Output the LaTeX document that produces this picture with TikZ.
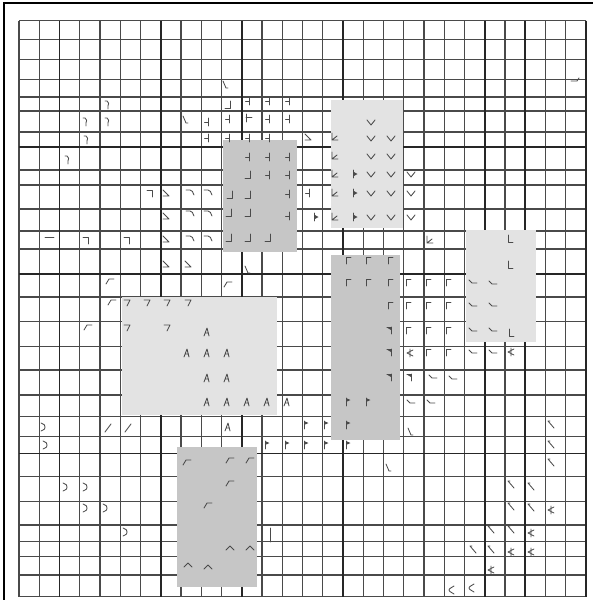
\documentclass[tikz,border=0pt]{standalone}
\definecolor{gridc}{HTML}{4A4A4A}
\definecolor{gridh}{HTML}{262626}
\definecolor{midg}{HTML}{C6C6C6}
\definecolor{lightg}{HTML}{E3E3E3}
\definecolor{glc}{HTML}{4A4A4A}
\tikzset{
 gridln/.style={draw=gridc, line width=1.25},
 gridhv/.style={draw=gridh, line width=1.6},
 glyph/.style={draw=glc, line width=0.85, line cap=round, line join=round},
 ta/.pic={\draw[glyph] (1.5,-4)--(1.5,4) (-2.5,0)--(1.5,0);},
 Jf/.pic={\draw[glyph] (2,-4)--(2,3)--(-3,3);},
 sq/.pic={\draw[glyph] (-2,-4)--(-2,4) (-2,-1)--(4,-1);},
 sev/.pic={\draw[glyph] (-3,-3)--(2,-3)--(2,4);},
 sevs/.pic={\draw[glyph] (-3,-3)--(3,-3)--(0,3);},
 cap/.pic={\draw[glyph] (-4,-2)--(0,-2) .. controls (2,-2) and (3,0) .. (4,3);},
 tri/.pic={\draw[glyph] (-3,-3)--(3,3)--(-3,3);},
 hook/.pic={\draw[glyph] (-2,-4) .. controls (0,-1) .. (1,3) -- (3,3);},
 paren/.pic={\draw[glyph] (-2,-4)--(0,-4) .. controls (2,-3) and (2,-1) .. (1,1) -- (1,4);},
 gt/.pic={\draw[glyph] (-2,-4) .. controls (2,-2) .. (2,0) .. controls (2,2) .. (-2,4);},
 Lv/.pic={\draw[glyph] (-3,-4)--(-3,3)--(3,3) (-3,3)--(2,-1);},
 vv/.pic={\draw[glyph] (-4,-2)--(0,3)--(4,-2);},
 pr/.pic={\draw[glyph] (-2,-4)--(-2,4); \fill[glc] (-2,-2.5)--(2.5,0)--(-2,2.5)--cycle;},
 LL/.pic={\draw[glyph] (-2,-4)--(-2,3)--(3,3);},
 Gam/.pic={\draw[glyph] (-2,4)--(-2,-3)--(3,-3);},
 sm/.pic={\draw[glyph] (-4,-2)--(-1,1)--(4,1);},
 td/.pic={\draw[glyph] (1,-3)--(1,4); \fill[glc] (-4,-3)--(1,-3)--(1,0)--cycle;},
 kk/.pic={\draw[glyph] (0,-4)--(0,4) (3,-3)--(-3,0)--(3,3);},
 bsl/.pic={\draw[glyph] (-1,-4)--(-3,-4)--(3,3);},
 ru/.pic={\draw[glyph] (-4,3)--(-1,-2)--(4,-2);},
 caret/.pic={\draw[glyph] (-4,2)--(0,-2)--(4,2);},
 AA/.pic={\draw[glyph] (-3,4)--(0,-4)--(2,4) (-2,1)--(1.5,1);},
 flag/.pic={\draw[glyph] (-2,-4)--(-2,4); \fill[glc] (-2,-4)--(2.5,-2)--(-2,0)--cycle;},
 slash/.pic={\draw[glyph] (-3,4)--(3,-4);},
 bar/.pic={\draw[glyph] (0,-7)--(0,7);},
 dash/.pic={\draw[glyph] (-5,0)--(4,0);},
 lt/.pic={\draw[glyph] (3,-4) .. controls (-2,-1) .. (-2,0) .. controls (-2,1) .. (3,4);},
 dhook/.pic={\draw[glyph] (-4,1)--(2,1)--(4,-2);}
}
\newcommand\glyf[3]{\pic at (#2,#3) {#1};}
\begin{document}
\begin{tikzpicture}[x=1pt,y=-1pt]
\useasboundingbox (0,0) rectangle (593,600);
\fill[white] (0,0) rectangle (593,600);
% grid
\foreach \k in {0,...,28} \draw[gridln] ({19+20.25*\k},20.7) -- ({19+20.25*\k},596.7);
\foreach \yy in {20.7,39.3,59.3,79.3,97,111,132,146.7,170,185,209,231,249,274,297,321.7,346.7,370,395,416.7,436.7,453.3,476.7,501.7,525,541.7,556.7,575,596.7}
  \draw[gridln] (19,\yy) -- (586,\yy);
\foreach \k in {2,7,11,16,23,25} \draw[gridhv] ({19+20.25*\k},20.7) -- ({19+20.25*\k},596.7);
\draw[gridh, line width=2.2] (586,20.7) -- (586,596.7);
\foreach \yy in {146.7,274,453.3} \draw[gridhv] (19,\yy) -- (586,\yy);
% frame
\draw[black, line width=1.7] (4.2,600) -- (4.2,3.3) -- (593,3.3);
% shaded blocks
\fill[midg] (223,140) rectangle (297,252);
\fill[lightg] (331,100) rectangle (403,228);
\fill[lightg] (466,230) rectangle (536,342);
\fill[midg] (331,255) rectangle (400,440);
\fill[lightg] (122,297) rectangle (277,415);
\fill[midg] (177,447) rectangle (257,587);
% glyphs top-left
\glyf{hook}{225}{85}
\glyf{Jf}{228}{105}
\glyf{ta}{248}{101}\glyf{ta}{268}{101}\glyf{ta}{288}{101}
\glyf{hook}{185}{120}
\glyf{ta}{207}{122}\glyf{ta}{228}{119}\glyf{sq}{248}{118}\glyf{ta}{268}{119}\glyf{ta}{288}{119}
\glyf{ta}{207}{138}\glyf{ta}{228}{138}\glyf{ta}{248}{138}\glyf{ta}{268}{138}
\glyf{paren}{107}{105}\glyf{paren}{85}{122}\glyf{paren}{107}{122}\glyf{paren}{86}{140}\glyf{paren}{67}{160}
\glyf{ta}{248}{157}\glyf{ta}{268}{157}\glyf{ta}{288}{157}
\glyf{Jf}{248}{175}\glyf{ta}{268}{175}\glyf{ta}{288}{175}
\glyf{sev}{150}{193}\glyf{tri}{166}{193}\glyf{cap}{190}{192}\glyf{cap}{208}{192}\glyf{Jf}{230}{195}\glyf{Jf}{248}{195}\glyf{ta}{288}{194}
\glyf{tri}{166}{216}\glyf{cap}{190}{213}\glyf{cap}{208}{213}\glyf{Jf}{229}{213}\glyf{Jf}{248}{213}\glyf{ta}{288}{216}
\glyf{dash}{50}{237}\glyf{sev}{86}{240}\glyf{sev}{127}{240}\glyf{tri}{166}{239}\glyf{cap}{190}{238}\glyf{cap}{208}{238}\glyf{Jf}{229}{238}\glyf{Jf}{248}{238}\glyf{Jf}{268}{238}
\glyf{tri}{166}{264}\glyf{tri}{188}{264}\glyf{hook}{247}{270}
\glyf{ru}{110}{281}\glyf{ru}{228}{284}
% top-right area
\glyf{tri}{308}{137}\glyf{Lv}{335}{137}\glyf{vv}{371}{138}\glyf{vv}{391}{138}
\glyf{vv}{371}{122}
\glyf{Lv}{335}{156}\glyf{vv}{371}{156}\glyf{vv}{391}{156}
\glyf{Lv}{335}{174}\glyf{pr}{355}{174}\glyf{vv}{371}{174}\glyf{vv}{391}{174}\glyf{vv}{411}{174}
\glyf{ta}{308}{193}\glyf{Lv}{335}{193}\glyf{pr}{355}{193}\glyf{vv}{371}{193}\glyf{vv}{391}{193}\glyf{vv}{411}{193}
\glyf{pr}{316}{217}\glyf{Lv}{335}{217}\glyf{pr}{355}{217}\glyf{vv}{371}{217}\glyf{vv}{391}{217}\glyf{vv}{411}{217}
\glyf{Lv}{430}{240}
\glyf{LL}{510}{239}\glyf{LL}{510}{265}
\glyf{dhook}{575}{80}
% middle right
\glyf{Gam}{348}{260}\glyf{Gam}{368}{260}\glyf{Gam}{390}{260}
\glyf{Gam}{348}{282}\glyf{Gam}{368}{282}\glyf{Gam}{390}{282}\glyf{Gam}{408}{282}\glyf{Gam}{428}{282}\glyf{Gam}{448}{282}\glyf{sm}{473}{282}\glyf{sm}{493}{283}
\glyf{Gam}{390}{305}\glyf{Gam}{408}{305}\glyf{Gam}{428}{305}\glyf{Gam}{448}{305}\glyf{sm}{473}{305}\glyf{sm}{493}{305}
\glyf{td}{390}{330}\glyf{Gam}{408}{330}\glyf{Gam}{428}{330}\glyf{Gam}{448}{330}\glyf{sm}{473}{330}\glyf{sm}{493}{330}\glyf{LL}{511}{333}
\glyf{td}{390}{352}\glyf{kk}{410}{353}\glyf{Gam}{428}{352}\glyf{Gam}{448}{352}\glyf{sm}{473}{352}\glyf{sm}{493}{352}\glyf{kk}{511}{352}
\glyf{td}{390}{377}\glyf{td}{410}{377}\glyf{sm}{433}{377}\glyf{sm}{453}{378}
\glyf{flag}{348}{402}\glyf{flag}{368}{402}\glyf{sm}{411}{402}\glyf{sm}{431}{402}
\glyf{flag}{306}{425}\glyf{flag}{326}{425}\glyf{flag}{348}{425}\glyf{hook}{410}{432}\glyf{bsl}{551}{425}
\glyf{flag}{267}{445}\glyf{flag}{287}{445}\glyf{flag}{306}{445}\glyf{flag}{326}{445}\glyf{flag}{348}{445}\glyf{bsl}{551}{445}
\glyf{hook}{388}{468}\glyf{bsl}{551}{463}
\glyf{bsl}{511}{485}\glyf{bsl}{531}{487}
\glyf{bsl}{511}{507}\glyf{bsl}{531}{508}\glyf{kk}{551}{510}
\glyf{bsl}{491}{530}\glyf{bsl}{511}{530}\glyf{kk}{531}{533}
\glyf{bsl}{473}{550}\glyf{bsl}{491}{550}\glyf{kk}{511}{552}\glyf{kk}{531}{552}
\glyf{kk}{491}{570}
\glyf{lt}{451}{590}\glyf{lt}{471}{588}
% lower left
\glyf{ru}{112}{302}\glyf{sevs}{127}{303}\glyf{sevs}{147}{303}\glyf{sevs}{167}{303}\glyf{sevs}{188}{303}
\glyf{ru}{88}{327}\glyf{sevs}{127}{328}\glyf{sevs}{167}{328}\glyf{AA}{207}{332}
\glyf{AA}{187}{353}\glyf{AA}{207}{353}\glyf{AA}{227}{353}
\glyf{AA}{207}{378}\glyf{AA}{227}{378}
\glyf{AA}{207}{402}\glyf{AA}{227}{402}\glyf{AA}{247}{402}\glyf{AA}{267}{402}\glyf{AA}{287}{402}
\glyf{gt}{43}{427}\glyf{slash}{108}{428}\glyf{slash}{128}{428}\glyf{AA}{228}{427}
\glyf{gt}{45}{445}
\glyf{ru}{187}{462}\glyf{ru}{230}{460}\glyf{ru}{250}{460}
\glyf{gt}{65}{487}\glyf{gt}{85}{487}\glyf{ru}{230}{483}
\glyf{gt}{85}{508}\glyf{gt}{105}{508}\glyf{ru}{208}{505}
\glyf{gt}{125}{532}
\glyf{bar}{270}{535}
\glyf{caret}{230}{548}\glyf{caret}{250}{548}
\glyf{caret}{188}{565}\glyf{caret}{208}{567}
\end{tikzpicture}
\end{document}
